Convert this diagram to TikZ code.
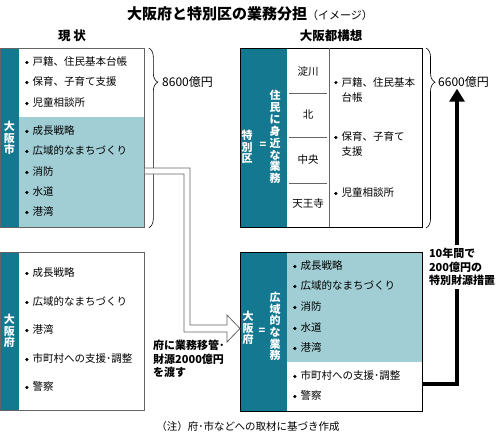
\documentclass[tikz,border=0pt]{standalone}
\usepackage{fontspec}
\setmainfont{Noto Sans CJK JP}
\usepackage{tikz}
\usetikzlibrary{arrows.meta, positioning, calc, decorations.pathreplacing}
\usepackage{xcolor}
\definecolor{deepteal}{RGB}{20,120,145}
\definecolor{paleteal}{RGB}{160,206,212}
\definecolor{edgegray}{RGB}{100,100,100}
\newcommand{\bul}{\tikz[baseline=-0.33em]\fill (0,0) circle (1.7pt);\hspace{4pt}}

\begin{document}
\begin{tikzpicture}[x=1pt, y=-1pt,
  itm/.style={anchor=west, inner sep=0pt, align=left, font=\fontsize{10.5}{15}\selectfont},
  vlab/.style={inner sep=0pt, align=center, text=white, font=\bfseries\fontsize{11}{11.6}\selectfont},
  ward/.style={inner sep=0pt, font=\fontsize{10.5}{12}\selectfont},
  note/.style={inner sep=0pt, align=left, font=\bfseries\fontsize{11}{13.5}\selectfont},
  head/.style={inner sep=0pt, font=\bfseries\fontsize{12.5}{14}\selectfont},
  amount/.style={anchor=west, inner sep=0pt, font=\fontsize{12}{14}\selectfont},
  lbox/.style={draw=edgegray, line width=0.8pt, anchor=north west, inner sep=0pt},
  rbox/.style={draw=black, line width=1pt, anchor=north west, inner sep=0pt},
  sbrace/.style={decorate, decoration={brace, amplitude=9pt, aspect=0.19}, line width=0.6pt}
]
  \useasboundingbox (0,0) rectangle (500,439);

  % Title and headings
  \node[inner sep=0pt] (title) at (250,14) {{\bfseries\fontsize{15}{17}\selectfont 大阪府と特別区の業務分担}{\fontsize{11}{13}\selectfont （イメージ）}};
  \node[head] (nowHd) at (72,36) {現\ 状};
  \node[head] (planHd) at (331,36) {大阪都構想};

  % Osaka city (now)
  \fill[paleteal] (0,117) rectangle (144,227);
  \fill[deepteal] (0,48) rectangle (19,227);
  \node[lbox, minimum width=144pt, minimum height=179pt] (cityBox) at (0,48) {};
  \node[vlab] (cityLb) at (9.5,138) {大\\阪\\市};
  \foreach \t/\y [count=\i] in {戸籍、住民基本台帳/62, 保育、子育て支援/82, 児童相談所/103,
      成長戦略/131, 広域的なまちづくり/151, 消防/172, 水道/192, 港湾/212}
    \node[itm] (cityI\i) at (25,\y) {\bul\t};

  % Osaka prefecture (now)
  \fill[deepteal] (0,252) rectangle (19,410);
  \node[lbox, minimum width=144pt, minimum height=158pt] (prefBox) at (0,252) {};
  \node[vlab] (prefLb) at (9.5,331) {大\\阪\\府};
  \foreach \t/\y [count=\i] in {成長戦略/273, 広域的なまちづくり/302, 港湾/330,
      市町村への支援･調整/359, 警察/387}
    \node[itm] (prefI\i) at (25,\y) {\bul\t};

  % Special wards (plan)
  \fill[deepteal] (240,48) rectangle (287,227);
  \node[rbox, minimum width=182pt, minimum height=179pt] (wardBox) at (240,48) {};
  \draw[edgegray, line width=0.6pt] (329,48) -- (329,227);
  \foreach \y in {93,137,183}
    \draw[edgegray, line width=0.6pt] (289,\y) -- (327,\y);
  \foreach \t/\y [count=\i] in {淀川/72, 北/115, 中央/160, 天王寺/204}
    \node[ward] (ward\i) at (308,\y) {\t};
  \node[vlab] (wardLb) at (247,147) {特\\別\\区};
  \node[vlab] (wardEq) at (263,145) {=};
  \node[vlab, font=\bfseries\fontsize{11}{11.9}\selectfont] (wardJob) at (275,137) {住\\民\\に\\身\\近\\な\\業\\務};
  \node[itm] (wardI1) at (334,89.5) {\bul 戸籍、住民基本\\\phantom{\bul}台帳};
  \node[itm] (wardI2) at (334,144.5) {\bul 保育、子育て\\\phantom{\bul}支援};
  \node[itm] (wardI3) at (334,193) {\bul 児童相談所};

  % Osaka prefecture (plan)
  \fill[paleteal] (287,252) rectangle (422,362);
  \fill[deepteal] (240,252) rectangle (287,411);
  \node[rbox, minimum width=182pt, minimum height=159pt] (fuBox) at (240,252) {};
  \node[vlab] (fuLb) at (248,328) {大\\阪\\府};
  \node[vlab] (fuEq) at (262,331) {=};
  \node[vlab] (fuJob) at (275,326.5) {広\\域\\的\\な\\業\\務};
  \foreach \t/\y [count=\i] in {成長戦略/266, 広域的なまちづくり/286, 消防/307, 水道/328,
      港湾/348, 市町村への支援･調整/376, 警察/396}
    \node[itm] (fuI\i) at (293,\y) {\bul\t};

  % Budgets
  \draw[sbrace] ([xshift=4pt]cityBox.north east) -- ([xshift=4pt]cityBox.south east);
  \node[amount] (amtNow) at (162,82) {8600億円};
  \draw[sbrace] ([xshift=3pt]wardBox.north east) -- ([xshift=3pt]wardBox.south east);
  \node[amount] (amtPlan) at (438,82) {6600億円};

  % Transfer of work
  \filldraw[fill=white, draw=edgegray, line width=0.8pt]
    (cityBox.east |- 0,168) -- (190,168) -- (190,325) -- (227,325) -- (227,315)
    -- (fuBox.west |- 0,328.5) -- (227,342) -- (227,332) -- (184,332) -- (184,174)
    -- (cityBox.east |- 0,174);
  \node[note, anchor=north west] (moveNote) at (153,340) {府に業務移管･\\財源2000億円\\を渡す};

  % Special funding
  \coordinate (bend) at (457,384);
  \draw[line width=3.2pt, -{Triangle[width=15pt,length=13pt]}, shorten >=1pt]
    (fuBox.east |- bend) -- (bend) -- (bend |- amtPlan.south);
  \node[note, fill=white, inner sep=3pt] (fundNote) at (462,267) {10年間で\\200億円の\\特別財源措置};

  % Source
  \node[inner sep=0pt, font=\fontsize{10.5}{12}\selectfont] (src) at (248,427) {（注）府･市などへの取材に基づき作成};
\end{tikzpicture}
\end{document}
